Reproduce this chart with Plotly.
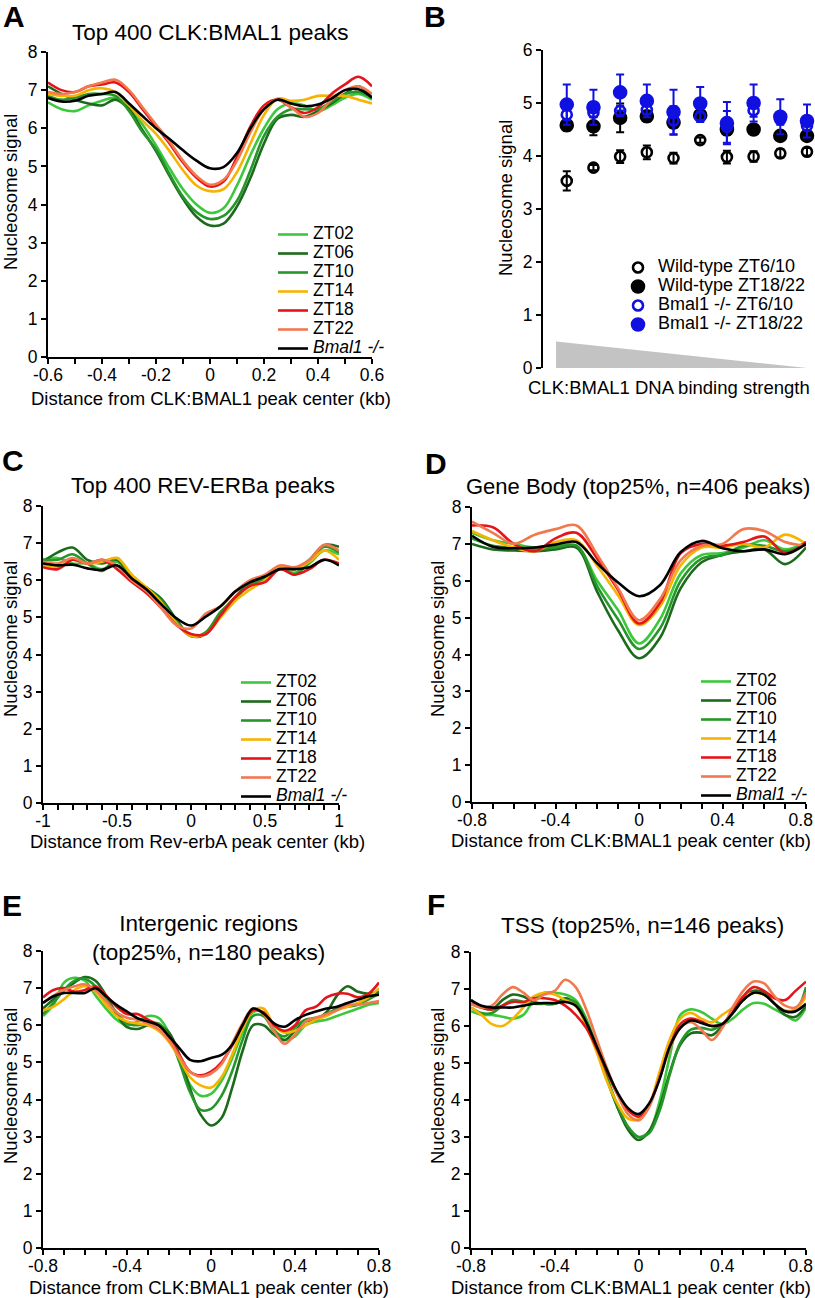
import plotly.graph_objects as go

W, H = 815, 1298
FONT = "Liberation Sans, Arial, Helvetica, sans-serif"

# ---------------- series definitions ----------------
series_names = ["ZT02", "ZT06", "ZT10", "ZT14", "ZT18", "ZT22", "<i>Bmal1 -/-</i>"]
series_colors = ["#3cc83c", "#1c6a1c", "#26962a", "#f6b400", "#e5141b", "#f2784e", "#000000"]

# ---------------- Panel A: Top 400 CLK:BMAL1 peaks ----------------
a_x = [-0.6, -0.55, -0.5, -0.45, -0.4, -0.35, -0.3, -0.25, -0.2, -0.15, -0.1, -0.05, 0,
       0.05, 0.1, 0.15, 0.2, 0.25, 0.3, 0.35, 0.4, 0.45, 0.5, 0.55, 0.6]
a_zt02 = [6.68, 6.5, 6.45, 6.6, 6.72, 6.8, 6.55, 6.1, 5.55, 4.95, 4.4, 4.0, 3.78,
          3.9, 4.5, 5.3, 6.0, 6.5, 6.65, 6.6, 6.45, 6.6, 6.8, 6.9, 6.75]
a_zt06 = [7.1, 6.9, 6.75, 6.65, 6.6, 6.75, 6.5, 5.95, 5.4, 4.75, 4.15, 3.68, 3.45,
          3.5, 3.95, 4.7, 5.6, 6.25, 6.35, 6.3, 6.45, 6.65, 6.9, 7.1, 6.8]
a_zt10 = [6.85, 6.75, 6.8, 6.9, 6.9, 6.85, 6.45, 5.9, 5.45, 4.8, 4.2, 3.8, 3.62,
          3.7, 4.1, 4.9, 5.8, 6.3, 6.5, 6.5, 6.5, 6.7, 6.9, 6.95, 6.8]
a_zt14 = [6.9, 6.85, 6.85, 7.0, 7.05, 6.95, 6.6, 6.2, 5.85, 5.4, 4.9, 4.5, 4.35,
          4.4, 4.85, 5.6, 6.35, 6.78, 6.72, 6.75, 6.85, 6.85, 6.85, 6.75, 6.65]
a_zt18 = [7.2, 7.0, 6.95, 7.1, 7.15, 7.2, 6.95, 6.5, 6.05, 5.6, 5.1, 4.7, 4.47,
          4.6, 5.25, 6.05, 6.6, 6.75, 6.55, 6.4, 6.55, 6.9, 7.15, 7.35, 7.1]
a_zt22 = [6.95, 6.9, 6.95, 7.1, 7.2, 7.27, 7.0, 6.55, 6.1, 5.65, 5.15, 4.75, 4.52,
          4.65, 5.15, 5.9, 6.5, 6.75, 6.55, 6.3, 6.4, 6.75, 7.0, 7.1, 6.9]
a_bmal = [6.8, 6.7, 6.72, 6.85, 6.9, 6.95, 6.65, 6.32, 6.0, 5.72, 5.42, 5.15, 4.95,
          4.98, 5.35, 6.0, 6.5, 6.75, 6.65, 6.58, 6.62, 6.78, 7.0, 7.02, 6.8]
a_ticks = [-0.6, -0.4, -0.2, 0, 0.2, 0.4, 0.6]
a_ticktext = ["-0.6", "-0.4", "-0.2", "0", "0.2", "0.4", "0.6"]

# ---------------- Panel B: binding strength bins ----------------
b_bins = [1, 2, 3, 4, 5, 6, 7, 8, 9, 10]
b_wt_early = [3.53, 3.78, 3.99, 4.07, 3.96, 4.30, 3.98, 3.99, 4.05, 4.08]
b_wt_early_err = [0.18, 0.05, 0.12, 0.13, 0.10, 0.05, 0.12, 0.10, 0.08, 0.07]
b_wt_late = [4.58, 4.56, 4.72, 4.75, 4.63, 4.77, 4.50, 4.50, 4.38, 4.38]
b_wt_late_err = [0.10, 0.17, 0.27, 0.10, 0.10, 0.07, 0.10, 0.06, 0.06, 0.06]
b_ko_early = [4.78, 4.82, 4.85, 4.87, 4.67, 4.74, 4.55, 4.86, 4.69, 4.57]
b_ko_early_err = [0.10, 0.08, 0.10, 0.08, 0.27, 0.10, 0.30, 0.12, 0.10, 0.08]
b_ko_late = [4.97, 4.92, 5.20, 5.04, 4.83, 4.99, 4.62, 5.00, 4.74, 4.66]
b_ko_late_err = [0.38, 0.33, 0.34, 0.31, 0.42, 0.31, 0.40, 0.35, 0.33, 0.31]
b_names = ["Wild-type ZT6/10", "Wild-type ZT18/22", "Bmal1 -/- ZT6/10", "Bmal1 -/- ZT18/22"]
wedge_x = [0.6, 0.6, 10.0, 0.6]
wedge_y = [0.0, 0.5, 0.0, 0.0]

# ---------------- Panel C: Top 400 REV-ERBa peaks ----------------
c_x = [-1.0, -0.9, -0.8, -0.7, -0.6, -0.5, -0.4, -0.3, -0.2, -0.1, 0,
       0.1, 0.2, 0.3, 0.4, 0.5, 0.6, 0.7, 0.8, 0.9, 1.0]
c_zt02 = [6.55, 6.6, 6.45, 6.45, 6.3, 6.5, 6.0, 5.75, 5.4, 4.85, 4.5, 4.6, 5.1, 5.55, 5.85, 6.05, 6.3, 6.2, 6.45, 6.8, 6.7]
c_zt06 = [6.5, 6.75, 6.88, 6.55, 6.45, 6.55, 6.05, 5.8, 5.5, 4.95, 4.5, 4.55, 5.1, 5.55, 5.95, 6.05, 6.35, 6.3, 6.55, 6.95, 6.9]
c_zt10 = [6.55, 6.55, 6.7, 6.45, 6.25, 6.6, 6.05, 5.8, 5.45, 4.9, 4.5, 4.6, 5.15, 5.5, 5.9, 6.05, 6.35, 6.15, 6.5, 6.9, 6.75]
c_zt14 = [6.4, 6.35, 6.55, 6.45, 6.5, 6.6, 6.15, 5.8, 5.4, 4.85, 4.5, 4.55, 5.0, 5.45, 5.75, 6.0, 6.35, 6.3, 6.5, 6.8, 6.55]
c_zt18 = [6.35, 6.3, 6.55, 6.45, 6.55, 6.3, 5.95, 5.65, 5.25, 4.8, 4.55, 4.55, 5.05, 5.55, 5.85, 5.95, 6.3, 6.15, 6.3, 6.55, 6.45]
c_zt22 = [6.5, 6.45, 6.6, 6.45, 6.55, 6.4, 6.0, 5.7, 5.25, 4.8, 4.7, 5.1, 5.3, 5.7, 6.0, 6.15, 6.4, 6.35, 6.55, 6.95, 6.8]
c_bmal = [6.45, 6.4, 6.42, 6.32, 6.28, 6.4, 6.05, 5.75, 5.35, 4.98, 4.78, 5.02, 5.3, 5.7, 5.95, 6.1, 6.3, 6.3, 6.35, 6.55, 6.4]
c_ticks = [-1, -0.5, 0, 0.5, 1]
c_ticktext = ["-1", "-0.5", "0", "0.5", "1"]

# ---------------- Panel D: Gene body ----------------
d_x = [-0.8, -0.7, -0.6, -0.5, -0.4, -0.3, -0.2, -0.1, 0, 0.1, 0.2, 0.3, 0.4, 0.5, 0.6, 0.7, 0.8]
d_zt02 = [7.3, 7.1, 7.0, 6.9, 6.95, 6.95, 6.0, 5.2, 4.3, 4.95, 6.2, 6.7, 6.75, 6.9, 7.1, 6.85, 7.05]
d_zt06 = [7.0, 6.85, 6.82, 6.8, 6.85, 6.9, 5.7, 4.65, 3.9, 4.45, 5.8, 6.5, 6.7, 6.8, 6.85, 6.45, 6.9]
d_zt10 = [7.15, 6.95, 6.9, 6.85, 6.9, 6.95, 5.85, 4.95, 4.15, 4.7, 6.0, 6.6, 6.7, 6.95, 6.95, 6.8, 7.0]
d_zt14 = [7.35, 7.1, 6.9, 6.8, 7.05, 7.1, 6.4, 5.6, 4.8, 5.3, 6.42, 6.9, 6.9, 7.0, 6.9, 7.25, 7.0]
d_zt18 = [7.5, 7.45, 7.0, 6.8, 7.15, 7.3, 6.6, 5.75, 4.84, 5.4, 6.75, 7.0, 6.95, 7.05, 7.2, 6.75, 7.05]
d_zt22 = [7.6, 7.3, 7.0, 7.25, 7.4, 7.5, 6.7, 5.8, 4.93, 5.5, 6.56, 6.95, 7.0, 7.4, 7.35, 7.05, 6.95]
d_bmal = [7.22, 6.92, 6.88, 6.9, 6.98, 7.05, 6.47, 5.95, 5.58, 5.88, 6.78, 7.08, 6.88, 6.8, 6.85, 6.72, 7.0]
d_ticks = [-0.8, -0.4, 0, 0.4, 0.8]
d_ticktext = ["-0.8", "-0.4", "0", "0.4", "0.8"]
# right-column panels: last label nudged inward (thin spaces) so it stays on the page
d_ticktext_right = ["-0.8", "-0.4", "0", "0.4", "0.8\u2009\u2009\u2009"]

# ---------------- Panel E: Intergenic regions ----------------
e_x = [-0.8, -0.75, -0.7, -0.65, -0.6, -0.55, -0.5, -0.45, -0.4, -0.35, -0.3, -0.25, -0.2, -0.15,
       -0.1, -0.05, 0, 0.05, 0.1, 0.15, 0.2, 0.25, 0.3, 0.35, 0.4, 0.45, 0.5, 0.55, 0.6, 0.65,
       0.7, 0.75, 0.8]
e_zt02 = [6.25, 6.55, 7.15, 7.28, 7.2, 6.8, 6.45, 6.15, 6.0, 6.1, 6.25, 6.2, 5.8, 5.1, 4.4, 4.1, 4.15,
          4.5, 5.1, 5.8, 6.35, 6.35, 5.9, 5.6, 5.7, 6.0, 6.1, 6.15, 6.25, 6.35, 6.45, 6.55, 6.6]
e_zt06 = [6.45, 6.7, 6.95, 7.15, 7.3, 7.2, 6.8, 6.3, 5.95, 5.9, 6.0, 6.0, 5.8, 5.2, 4.3, 3.6, 3.3,
          3.5, 4.3, 5.3, 6.0, 6.0, 5.75, 5.6, 5.85, 6.1, 6.15, 6.35, 6.8, 7.05, 6.9, 6.85, 6.9]
e_zt10 = [6.3, 6.6, 6.95, 7.2, 7.25, 7.05, 6.7, 6.35, 6.05, 6.0, 6.05, 6.05, 5.7, 5.0, 4.2, 3.72, 3.75,
          4.1, 4.75, 5.6, 6.25, 6.25, 5.85, 5.7, 5.95, 6.15, 6.2, 6.3, 6.45, 6.5, 6.55, 6.7, 6.85]
e_zt14 = [6.4, 6.5, 6.7, 6.95, 7.05, 6.9, 6.55, 6.25, 6.1, 6.05, 6.0, 5.85, 5.55, 5.1, 4.6, 4.38, 4.32,
          4.6, 5.2, 5.9, 6.4, 6.45, 6.0, 5.8, 5.85, 6.0, 6.15, 6.25, 6.4, 6.5, 6.6, 6.75, 7.0]
e_zt18 = [6.75, 6.95, 7.0, 6.9, 6.95, 7.05, 6.8, 6.5, 6.3, 6.3, 6.15, 6.0, 5.7, 5.2, 4.75, 4.65, 4.75,
          5.0, 5.45, 6.0, 6.4, 6.35, 6.0, 5.85, 6.0, 6.4, 6.5, 6.75, 6.85, 6.85, 6.75, 6.85, 7.15]
e_zt22 = [6.6, 6.8, 6.95, 7.05, 7.1, 6.95, 6.65, 6.35, 6.2, 6.15, 6.05, 5.9, 5.6, 5.15, 4.75, 4.62, 4.7,
          4.95, 5.5, 6.05, 6.45, 6.3, 5.85, 5.5, 5.75, 6.1, 6.2, 6.3, 6.4, 6.55, 6.55, 6.6, 6.65]
e_bmal = [6.6, 6.78, 6.87, 6.87, 6.87, 7.0, 6.78, 6.55, 6.37, 6.19, 6.1, 6.0, 5.7, 5.38, 5.07, 5.03, 5.12,
          5.2, 5.47, 6.0, 6.45, 6.32, 6.05, 5.96, 6.14, 6.28, 6.37, 6.45, 6.5, 6.6, 6.69, 6.78, 6.82]

# ---------------- Panel F: TSS ----------------
f_x = e_x
f_zt02 = [6.4, 6.3, 6.3, 6.25, 6.2, 6.3, 6.7, 6.9, 6.9, 6.85, 6.7, 6.2, 5.45, 4.55, 3.8, 3.25, 3.0,
          3.15, 3.95, 5.2, 6.3, 6.45, 6.38, 6.2, 6.05, 6.2, 6.45, 6.62, 6.6, 6.45, 6.3, 6.15, 6.5]
f_zt06 = [6.6, 6.5, 6.45, 6.7, 6.85, 6.8, 6.65, 6.6, 6.6, 6.75, 6.6, 6.1, 5.4, 4.55, 3.8, 3.2, 2.92,
          3.15, 3.8, 4.75, 5.5, 5.8, 5.82, 5.75, 6.0, 6.4, 6.75, 6.95, 6.9, 6.6, 6.3, 6.25, 6.55]
f_zt10 = [6.5, 6.35, 6.35, 6.55, 6.7, 6.65, 6.6, 6.6, 6.6, 6.7, 6.65, 6.15, 5.45, 4.6, 3.85, 3.28, 3.0,
          3.1, 3.7, 4.7, 5.55, 5.9, 5.95, 5.9, 6.05, 6.35, 6.7, 6.9, 6.85, 6.6, 6.4, 6.4, 7.05]
f_zt14 = [6.5, 6.3, 6.05, 6.0, 6.2, 6.5, 6.8, 6.9, 6.85, 6.7, 6.55, 6.0, 5.3, 4.5, 3.9, 3.5, 3.48,
          3.85, 4.75, 5.65, 6.2, 6.35, 6.2, 6.1, 6.3, 6.5, 6.8, 6.9, 6.85, 6.6, 6.42, 6.45, 6.8]
f_zt18 = [6.7, 6.5, 6.45, 6.55, 6.65, 6.65, 6.75, 6.75, 6.7, 6.55, 6.3, 5.95, 5.4, 4.75, 4.15, 3.72, 3.55,
          3.85, 4.6, 5.45, 6.05, 6.2, 6.12, 6.0, 6.05, 6.4, 6.8, 7.05, 6.95, 6.75, 6.7, 6.95, 7.2]
f_zt22 = [6.6, 6.5, 6.55, 6.85, 7.05, 6.9, 6.7, 6.85, 6.95, 7.25, 7.05, 6.45, 5.65, 4.85, 4.15, 3.62, 3.45,
          3.8, 4.6, 5.4, 5.95, 6.1, 5.9, 5.62, 5.95, 6.5, 6.95, 7.2, 7.15, 6.8, 6.55, 6.5, 6.9]
f_bmal = [6.7, 6.55, 6.5, 6.5, 6.5, 6.55, 6.6, 6.62, 6.62, 6.65, 6.55, 6.1, 5.45, 4.8, 4.2, 3.78, 3.62,
          3.9, 4.55, 5.45, 5.95, 6.15, 6.08, 6.0, 6.05, 6.35, 6.7, 6.9, 6.85, 6.6, 6.4, 6.4, 6.6]

y_ticks = [0, 1, 2, 3, 4, 5, 6, 7, 8]
b_y_ticks = [0, 1, 2, 3, 4, 5, 6]


def px_x(p):
    return p / W


def px_y(p):
    return 1 - p / H


fig = go.Figure()

panels = [
    ("x", "y", a_x, [a_zt02, a_zt06, a_zt10, a_zt14, a_zt18, a_zt22, a_bmal], "legend"),
    ("x3", "y3", c_x, [c_zt02, c_zt06, c_zt10, c_zt14, c_zt18, c_zt22, c_bmal], "legend3"),
    ("x4", "y4", d_x, [d_zt02, d_zt06, d_zt10, d_zt14, d_zt18, d_zt22, d_bmal], "legend4"),
    ("x5", "y5", e_x, [e_zt02, e_zt06, e_zt10, e_zt14, e_zt18, e_zt22, e_bmal], None),
    ("x6", "y6", f_x, [f_zt02, f_zt06, f_zt10, f_zt14, f_zt18, f_zt22, f_bmal], None),
]

for xa, ya, xs, ys_list, leg in panels:
    for name, col, ys in zip(series_names, series_colors, ys_list):
        fig.add_trace(go.Scatter(
            x=xs, y=ys, mode="lines", xaxis=xa, yaxis=ya,
            line=dict(color=col, width=2.6, shape="spline", smoothing=1.0),
            name="<span style='font-size:17.5px'>%s</span>" % name,
            showlegend=leg is not None, legend=leg if leg else "legend",
            hoverinfo="skip",
        ))

# Panel B
fig.add_trace(go.Scatter(x=wedge_x, y=wedge_y, xaxis="x2", yaxis="y2", mode="lines",
                         fill="toself", fillcolor="#c3c3c3", line=dict(width=0, color="#c3c3c3"),
                         showlegend=False, hoverinfo="skip"))
b_specs = [
    (b_wt_early, b_wt_early_err, "#000000", "circle-open", 10, b_names[0]),
    (b_wt_late, b_wt_late_err, "#000000", "circle", 12, b_names[1]),
    (b_ko_early, b_ko_early_err, "#1010e0", "circle-open", 10, b_names[2]),
    (b_ko_late, b_ko_late_err, "#1010e0", "circle", 12, b_names[3]),
]
for vals, errs, col, sym, size, name in b_specs:
    fig.add_trace(go.Scatter(
        x=b_bins, y=vals, xaxis="x2", yaxis="y2", mode="markers",
        marker=dict(symbol=sym, size=size, color=col, line=dict(color=col, width=2.6)),
        error_y=dict(type="data", array=errs, color=col, thickness=2, width=4),
        name="<span style='font-size:18px'>%s</span>" % name, legend="legend2",
        hoverinfo="skip",
    ))

tickfont = dict(family=FONT, size=17.5, color="black")
common = dict(showline=True, linecolor="black", linewidth=2, ticks="outside", ticklen=5,
              tickwidth=2, tickcolor="black", showgrid=False, zeroline=False,
              tickfont=tickfont, fixedrange=True, automargin=False,
              ticklabeloverflow="allow")


def yaxis(top, bottom, anchor, tv=y_ticks, rng=(0, 8)):
    return dict(domain=[px_y(bottom), px_y(top)], range=list(rng), tickvals=tv,
                anchor=anchor, **common)


def xaxis(left, right, anchor, rng, tv, tt):
    return dict(domain=[px_x(left), px_x(right)], range=list(rng), tickvals=tv, ticktext=tt,
                anchor=anchor, ticklabelstandoff=-4,
                minor=dict(dtick=0.1, tick0=0, ticks="outside", ticklen=5, tickwidth=2,
                           tickcolor="black"),
                **common)


legend_common = dict(xanchor="left", yanchor="top", bgcolor="rgba(0,0,0,0)",
                     font=dict(family=FONT, size=12, color="black"), tracegroupgap=0,
                     itemwidth=30)

fig.update_layout(
    width=W, height=H, margin=dict(l=0, r=0, t=0, b=0, autoexpand=False),
    paper_bgcolor="white", plot_bgcolor="white",
    font=dict(family=FONT, color="black"),
    xaxis=xaxis(48, 372, "y", (-0.6, 0.6), a_ticks, a_ticktext),
    yaxis=yaxis(52, 357, "x"),
    xaxis2=dict(domain=[px_x(543), 1.0], range=[0.11, 10.3], anchor="y2", showline=False,
                showticklabels=False, ticks="", showgrid=False, zeroline=False, fixedrange=True,
                automargin=False),
    yaxis2=yaxis(50, 368, "x2", tv=b_y_ticks, rng=(0, 6)),
    xaxis3=xaxis(43, 339, "y3", (-1, 1), c_ticks, c_ticktext),
    yaxis3=yaxis(506, 803, "x3"),
    xaxis4=xaxis(472, 806, "y4", (-0.8, 0.8), d_ticks, d_ticktext_right),
    yaxis4=yaxis(507, 802, "x4"),
    xaxis5=xaxis(43, 379, "y5", (-0.8, 0.8), d_ticks, d_ticktext),
    yaxis5=yaxis(951, 1248, "x5"),
    xaxis6=xaxis(471, 806, "y6", (-0.8, 0.8), d_ticks, d_ticktext_right),
    yaxis6=yaxis(952, 1248, "x6"),
    legend=dict(x=px_x(273), y=px_y(220), **legend_common),
    legend2=dict(x=px_x(618), y=px_y(253), **legend_common),
    legend3=dict(x=px_x(236), y=px_y(668), **legend_common),
    legend4=dict(x=px_x(696), y=px_y(667), **legend_common),
    showlegend=True,
)

annotations = []


def ann(text, x, y, size, bold=False, angle=0):
    annotations.append(dict(
        text="<b>%s</b>" % text if bold else text,
        x=px_x(x), y=px_y(y), xref="paper", yref="paper",
        xanchor="center", yanchor="middle", showarrow=False, textangle=angle,
        font=dict(family=FONT, size=size, color="black"),
    ))


# panel letters
ann("A", 14, 17, 30, bold=True)
ann("B", 435, 17, 30, bold=True)
ann("C", 13, 461, 30, bold=True)
ann("D", 436, 464, 30, bold=True)
ann("E", 12, 905, 30, bold=True)
ann("F", 436, 904, 30, bold=True)

# titles
ann("Top 400 CLK:BMAL1 peaks", 210, 32, 22.5)
ann("Top 400 REV-ERBa peaks", 203, 485, 22.5)
ann("Gene Body (top25%, n=406 peaks)", 638, 487, 22)
ann("Intergenic regions<br>(top25%, n=180 peaks)", 208, 938, 22.5)
ann("TSS (top25%, n=146 peaks)", 642, 925, 22.5)

# y-axis labels
for x, y in [(10, 192), (505, 198), (10, 639), (437, 639), (10, 1086), (437, 1086)]:
    ann("Nucleosome signal", x, y, 18.5, angle=-90)

# x-axis labels
ann("Distance from CLK:BMAL1 peak center (kb)", 211, 398, 18.5)
ann("CLK:BMAL1 DNA binding strength", 669, 387, 18.5)
ann("Distance from Rev-erbA peak center (kb)", 197, 841, 18.5)
ann("Distance from CLK:BMAL1 peak center (kb)", 631, 840, 18.5)
ann("Distance from CLK:BMAL1 peak center (kb)", 209, 1287, 18.5)
ann("Distance from CLK:BMAL1 peak center (kb)", 631, 1287, 18.5)

fig.update_layout(annotations=annotations)

fig.write_html("out.html", config={"displayModeBar": False},
               post_script="document.body.style.margin='0px';document.body.style.padding='0px';")
